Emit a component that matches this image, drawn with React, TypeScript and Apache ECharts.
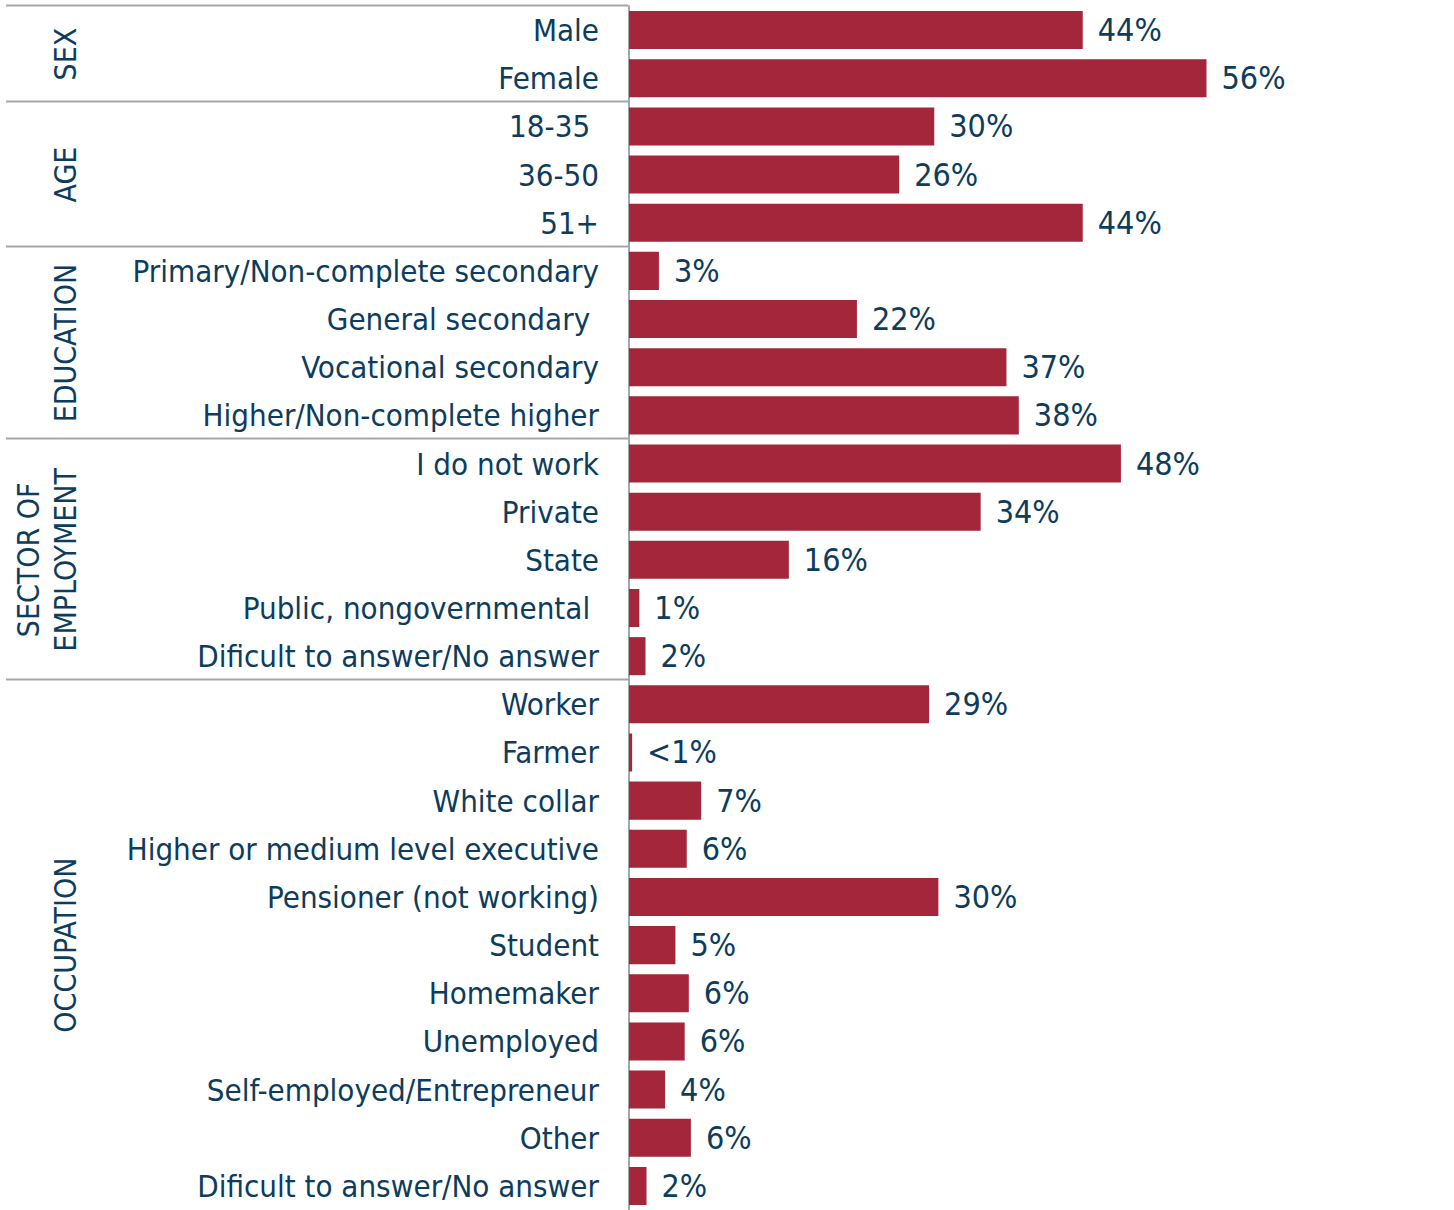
import React, { useEffect, useRef } from "react";
import * as echarts from "echarts";

const categories = [
  "Male",
  "Female",
  "18-35\u00a0",
  "36-50",
  "51+",
  "Primary/Non-complete secondary",
  "General secondary\u00a0",
  "Vocational secondary",
  "Higher/Non-complete higher",
  "I do not work",
  "Private",
  "State",
  "Public, nongovernmental\u00a0",
  "Dificult to answer/No answer",
  "Worker",
  "Farmer",
  "White collar",
  "Higher or medium level executive",
  "Pensioner (not working)",
  "Student",
  "Homemaker",
  "Unemployed",
  "Self-employed/Entrepreneur",
  "Other",
  "Dificult to answer/No answer\u200b",
];

const values = [
  44, 56, 29.6, 26.2, 44, 2.9, 22.1, 36.6, 37.8, 47.7, 34.1, 15.5, 1.0, 1.6,
  29.1, 0.3, 7.0, 5.6, 30.0, 4.5, 5.8, 5.4, 3.5, 6.0, 1.7,
];

const valueLabels = [
  "44%", "56%", "30%", "26%", "44%", "3%", "22%", "37%", "38%", "48%", "34%",
  "16%", "1%", "2%", "29%", "<1%", "7%", "6%", "30%", "5%", "6%", "6%", "4%",
  "6%", "2%",
];

const groupNames = ["SEX", "AGE", "EDUCATION", "SECTOR OF\nEMPLOYMENT", "OCCUPATION"];
const groupSizes = [2, 3, 4, 5, 11];

const TEXT = "#0d3c5c";
const BAR = "#a3263a";
const GRAY = "#a6a6a6";
const CAT_FONT = "'DejaVu Sans Condensed', 'DejaVu Sans', sans-serif";

export default function App() {
  const ref = useRef<HTMLDivElement>(null);

  useEffect(() => {
    if (!ref.current) return;
    const chart = echarts.init(ref.current, null, { renderer: "svg" });
    chart.setOption({
      animation: false,
      grid: { left: 629, top: 6, width: 826, height: 1205, containLabel: false },
      xAxis: { type: "value", min: 0, max: 80, show: false },
      yAxis: {
        type: "category",
        inverse: true,
        data: categories,
        axisLine: { show: true, lineStyle: { color: GRAY, width: 2 } },
        axisTick: { show: false },
        splitLine: { show: false },
        axisLabel: {
          interval: 0,
          margin: 30,
          fontSize: 31,
          fontFamily: CAT_FONT,
          color: TEXT,
        },
      },
      series: [
        {
          type: "bar",
          data: values,
          barCategoryGap: "21%",
          itemStyle: { color: BAR },
          label: {
            show: true,
            position: "right",
            distance: 15,
            fontSize: 32,
            fontFamily: CAT_FONT,
            color: TEXT,
            formatter: (p: any) => valueLabels[p.dataIndex],
          },
        },
      ],
    });

    const p0 = chart.convertToPixel({ yAxisIndex: 0 }, 0) as number;
    const p1 = chart.convertToPixel({ yAxisIndex: 0 }, 1) as number;
    const band = p1 - p0;
    const graphics: any[] = [];
    let start = 0;
    groupSizes.forEach((n, gi) => {
      const topY = p0 - band / 2 + start * band;
      const botY = topY + n * band;
      graphics.push({
        type: "line",
        shape: { x1: 6, y1: Math.round(topY) - 0.5, x2: 628, y2: Math.round(topY) - 0.5 },
        style: { stroke: GRAY, lineWidth: 2 },
      });
      const twoLine = groupNames[gi].includes("\n");
      graphics.push({
        type: "text",
        x: twoLine ? 46.5 : 65,
        y: (topY + botY) / 2,
        rotation: Math.PI / 2,
        style: {
          text: groupNames[gi],
          fontSize: 30,
          fontFamily: CAT_FONT,
          fill: TEXT,
          align: "center",
          verticalAlign: "middle",
          lineHeight: 37,
        },
      });
      start += n;
    });
    chart.setOption({ graphic: graphics });

    return () => chart.dispose();
  }, []);

  return (
    <div
      ref={ref}
      style={{ position: "fixed", left: 0, top: 0, width: 1454, height: 1210, background: "#fff" }}
    />
  );
}
